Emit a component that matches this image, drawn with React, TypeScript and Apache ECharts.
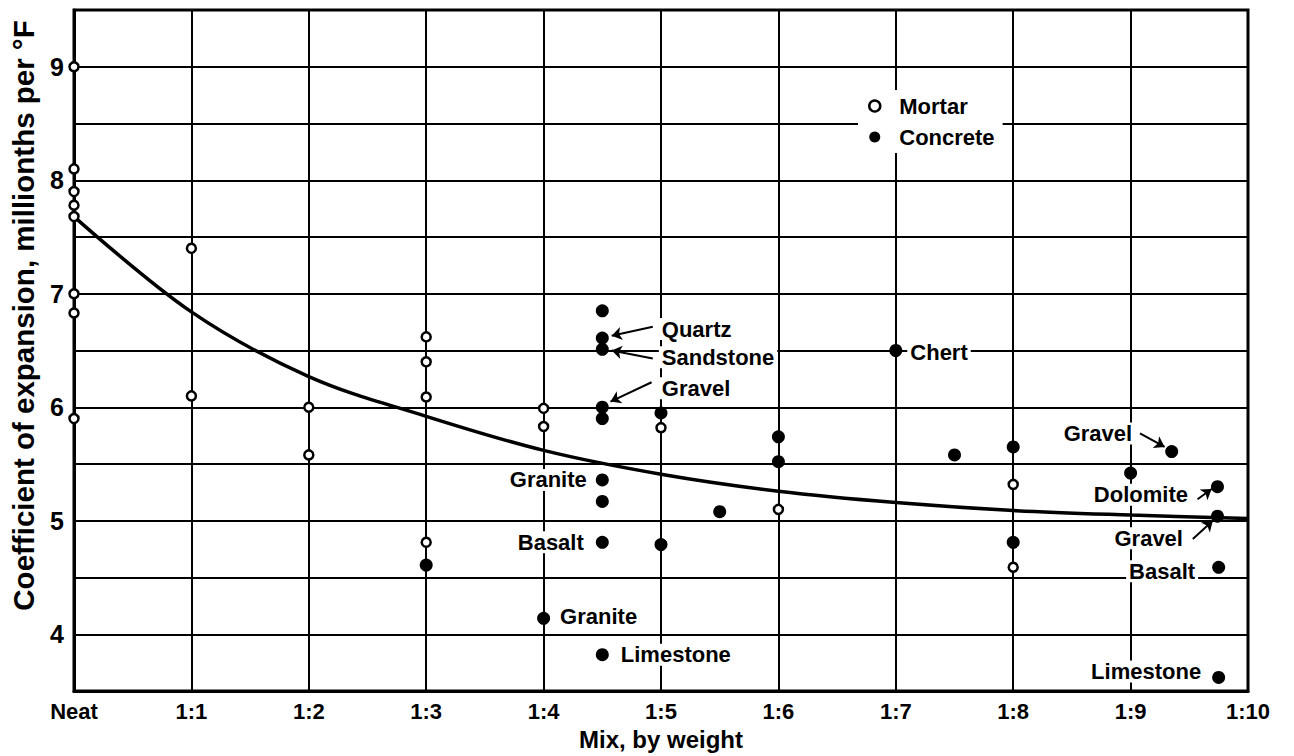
import React, { useEffect, useRef } from "react";
import * as echarts from "echarts";

// ---- Data ----
const xTickLabels = ["Neat", "1:1", "1:2", "1:3", "1:4", "1:5", "1:6", "1:7", "1:8", "1:9", "1:10"];

const mortarPoints: [number, number][] = [
  [0, 9.0], [0, 8.1], [0, 7.9], [0, 7.78], [0, 7.68], [0, 7.0], [0, 6.83], [0, 5.9],
  [1, 7.4], [1, 6.1],
  [2, 6.0], [2, 5.58],
  [3, 6.62], [3, 6.4], [3, 6.09], [3, 4.81],
  [4, 5.99], [4, 5.83],
  [5, 5.82],
  [6, 5.1],
  [8, 5.32], [8, 4.59],
];

const concretePoints: [number, number][] = [
  [3, 4.61],
  [4, 4.14],
  [4.5, 6.85], [4.5, 6.61], [4.5, 6.51], [4.5, 6.0], [4.5, 5.9], [4.5, 5.36], [4.5, 5.17], [4.5, 4.81], [4.5, 3.82],
  [5, 5.95], [5, 4.79],
  [5.5, 5.08],
  [6, 5.74], [6, 5.52],
  [7, 6.5],
  [7.5, 5.58],
  [8, 5.65], [8, 4.81],
  [9, 5.42],
  [9.35, 5.61],
  [9.74, 5.3], [9.74, 5.04],
  [9.75, 4.59], [9.75, 3.62],
];

const concreteLabels = [
  "",
  "Granite",
  "", "Quartz", "Sandstone", "Gravel", "", "Granite", "", "Basalt", "Limestone",
  "", "",
  "",
  "", "",
  "Chert",
  "",
  "", "",
  "",
  "Gravel",
  "Dolomite", "Gravel",
  "Basalt", "Limestone",
];

const curveX = [0, 1, 2, 3, 4, 5, 6, 7, 8, 9, 10];
const curveY = [7.68, 6.84, 6.27, 5.92, 5.62, 5.41, 5.26, 5.16, 5.09, 5.05, 5.02];

// annotation arrows in data units
const arrowFromX = [4.93, 4.93, 4.92, 9.08, 9.57, 9.53];
const arrowFromY = [6.71, 6.43, 6.22, 5.77, 5.19, 4.84];
const arrowToX = [4.58, 4.58, 4.57, 9.29, 9.69, 9.7];
const arrowToY = [6.63, 6.5, 6.05, 5.65, 5.28, 5.0];

// ---- Layout of annotation labels (styles, keyed by concrete point index) ----
const labelLayout: Record<number, { position: string; distance: number; offset: [number, number] }> = {
  1: { position: "right", distance: 7, offset: [0, -2] },
  3: { position: "right", distance: 50, offset: [0, -9] },
  4: { position: "right", distance: 50, offset: [0, 8] },
  5: { position: "right", distance: 50, offset: [0, -19] },
  7: { position: "left", distance: 6, offset: [0, 0] },
  9: { position: "left", distance: 9, offset: [0, 0] },
  10: { position: "right", distance: 9, offset: [0, 0] },
  16: { position: "right", distance: 5, offset: [0, 2] },
  21: { position: "left", distance: 30, offset: [0, -18] },
  22: { position: "left", distance: 20, offset: [0, 8] },
  23: { position: "left", distance: 25, offset: [0, 22] },
  24: { position: "left", distance: 14, offset: [0, 4] },
  25: { position: "left", distance: 8, offset: [0, -6] },
};

const FONT = "Liberation Sans";

export default function App() {
  const ref = useRef<HTMLDivElement>(null);

  useEffect(() => {
    if (!ref.current) return;
    const chart = echarts.init(ref.current, null, { renderer: "svg" });

    const concreteData = concretePoints.map((p, i) => {
      const text = concreteLabels[i];
      const lay = labelLayout[i];
      if (!text || !lay) return { value: p };
      return {
        value: p,
        label: {
          show: true,
          formatter: text,
          position: lay.position,
          distance: lay.distance,
          offset: lay.offset,
          color: "#000",
          opacity: 1,
          fontFamily: FONT,
          fontWeight: "bold",
          fontSize: 22,
          backgroundColor: "#fff",
          padding: [0, 3],
        },
      };
    });

    const arrowData = arrowFromX.map((fx, i) => [
      { coord: [fx, arrowFromY[i]] },
      { coord: [arrowToX[i], arrowToY[i]] },
    ]);

    chart.setOption({
      animation: false,
      backgroundColor: "#fff",
      grid: {
        left: 72,
        right: 46,
        top: 10,
        bottom: 64,
        show: true,
        borderColor: "#000",
        borderWidth: 3,
        backgroundColor: "transparent",
      },
      legend: {
        data: [
          { name: "Mortar", icon: "circle", itemStyle: { color: "#fff", borderColor: "#000", borderWidth: 2.5, opacity: 1 } },
          { name: "Concrete", icon: "circle", itemStyle: { color: "#000", opacity: 1 } },
        ],
        orient: "vertical",
        left: 858,
        top: 90,
        itemWidth: 11,
        itemHeight: 11,
        itemGap: 9,
        padding: [5, 8, 5, 10],
        backgroundColor: "#fff",
        selectedMode: false,
        textStyle: {
          fontFamily: FONT,
          fontWeight: "bold",
          fontSize: 22,
          color: "#000",
          padding: [0, 0, 0, 14],
        },
      },
      xAxis: {
        type: "value",
        min: 0,
        max: 10,
        interval: 1,
        name: "Mix, by weight",
        nameLocation: "middle",
        nameGap: 36,
        nameTextStyle: { fontFamily: FONT, fontWeight: "bold", fontSize: 24, color: "#000" },
        axisLine: { show: true, lineStyle: { color: "#000", width: 3 } },
        axisTick: { show: false },
        axisLabel: {
          formatter: (v: number) => xTickLabels[Math.round(v)] ?? "",
          fontFamily: FONT,
          fontWeight: "bold",
          fontSize: 22,
          color: "#000",
          margin: 9,
          showMinLabel: true,
          showMaxLabel: true,
          hideOverlap: false,
        },
        splitLine: { show: true, lineStyle: { color: "#000", width: 2 } },
      },
      yAxis: {
        type: "value",
        min: 3.5,
        max: 9.5,
        interval: 0.5,
        name: "Coefficient of expansion, millionths per °F",
        nameLocation: "middle",
        nameRotate: 90,
        nameGap: 36,
        nameTextStyle: {
          fontFamily: FONT,
          fontWeight: "bold",
          fontSize: 29.5,
          color: "#000",
          padding: [0, 0, 0, 70],
        },
        axisLine: { show: true, lineStyle: { color: "#000", width: 3 } },
        axisTick: { show: false },
        axisLabel: {
          formatter: (v: number) => (Number.isInteger(v) ? String(v) : ""),
          fontFamily: FONT,
          fontWeight: "bold",
          fontSize: 25,
          color: "#000",
          margin: 10,
        },
        splitLine: { show: true, lineStyle: { color: "#000", width: 2 } },
      },
      series: [
        {
          name: "Curve",
          type: "line",
          data: curveX.map((x, i) => [x, curveY[i]]),
          smooth: 0.35,
          showSymbol: false,
          lineStyle: { color: "#000", width: 3.5, opacity: 1 },
          silent: true,
          z: 3,
        },
        {
          name: "Arrows",
          type: "scatter",
          data: [],
          silent: true,
          markLine: {
            silent: true,
            symbol: ["none", "arrow"],
            symbolSize: 10,
            label: { show: false },
            lineStyle: { color: "#000", width: 2, type: "solid", curveness: 0.2, opacity: 1 },
            itemStyle: { color: "#000", opacity: 1 },
            emphasis: { disabled: true },
            data: arrowData,
          },
          z: 4,
        },
        {
          name: "Mortar",
          type: "scatter",
          data: mortarPoints,
          symbol: "circle",
          symbolSize: 9,
          itemStyle: { color: "#fff", borderColor: "#000", borderWidth: 2.5, opacity: 1 },
          silent: true,
          z: 5,
        },
        {
          name: "Concrete",
          type: "scatter",
          data: concreteData,
          symbol: "circle",
          symbolSize: 13,
          itemStyle: { color: "#000", opacity: 1 },
          silent: true,
          z: 6,
        },
      ],
    });

    return () => chart.dispose();
  }, []);

  return (
    <div
      ref={ref}
      style={{ position: "fixed", left: 0, top: 0, width: 1294, height: 756, background: "#fff" }}
    />
  );
}
